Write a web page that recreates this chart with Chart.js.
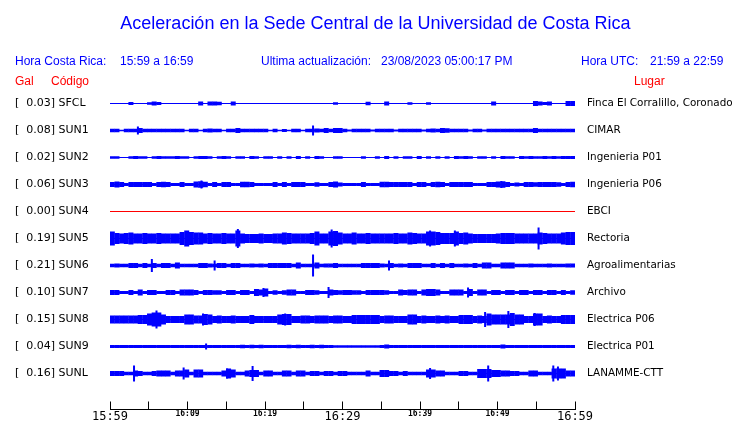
<!DOCTYPE html>
<html>
<head>
<meta charset="utf-8">
<script src="https://cdn.jsdelivr.net/npm/chart.js@4.4.0/dist/chart.umd.min.js"></script>
<style>
  body { margin: 0; background: #fff; }
  #wrap { position: relative; width: 740px; height: 423px; overflow: hidden; }
  #c { position: absolute; left: 0; top: 0; }
  .t { position: absolute; font-family: "Liberation Sans", Arial, sans-serif; white-space: pre; line-height: 1; }
  .blue { color: #0000ff; font-size: 12px; top: 55px; }
  .red { color: #ff0000; font-size: 12px; top: 75px; }
</style>
</head>
<body>
<div id="wrap">
  <canvas id="c" width="740" height="423"></canvas>
  <div class="t" style="color:#0000ff;font-size:18px;left:0;width:751px;text-align:center;top:14px">Aceleración en la Sede Central de la Universidad de Costa Rica</div>
  <div class="t blue" style="left:15px">Hora Costa Rica:</div>
  <div class="t blue" style="left:120px">15:59 a 16:59</div>
  <div class="t blue" style="left:261px">Ultima actualización:</div>
  <div class="t blue" style="left:381px">23/08/2023 05:00:17 PM</div>
  <div class="t blue" style="left:581px">Hora UTC:</div>
  <div class="t blue" style="left:650px">21:59 a 22:59</div>
  <div class="t red" style="left:15px">Gal</div>
  <div class="t red" style="left:51px">Código</div>
  <div class="t red" style="left:634px">Lugar</div>
</div>
<script>
//Estaciones
const CODES = ["SFCL", "SUN1", "SUN2", "SUN3", "SUN4", "SUN5", "SUN6", "SUN7", "SUN8", "SUN9", "SUNL"];
const GAL = ["0.03", "0.08", "0.02", "0.06", "0.00", "0.19", "0.21", "0.10", "0.15", "0.04", "0.16"];
const PLACES = ["Finca El Corralillo, Coronado", "CIMAR", "Ingenieria P01", "Ingenieria P06", "EBCI",
  "Rectoria", "Agroalimentarias", "Archivo", "Electrica P06", "Electrica P01", "LANAMME-CTT"];
const TIME_LABELS = ["15:59", "16:09", "16:19", "16:29", "16:39", "16:49", "16:59"];
const SPAN_MIN = 60;

//Envolvente de amplitud (100 intervalos de 0.6 min)
const ENV_SFCL = [0.5,0.5,0.5,0.5,1.5,0.5,0.5,0.5,1.3,2,
  1.5,0.5,0.5,0.5,0.5,0.5,0.5,0.5,0.5,2,
  0.5,2,2,1.8,0.5,0.5,2,0.5,0.5,0.5,
  0.5,0.5,0.5,0.5,0.5,0.5,0.5,0.5,0.5,0.5,
  0.5,0.5,0.5,0.5,0.5,0.5,0.5,0.5,1.3,0.5,
  0.5,0.5,0.5,0.5,0.5,1.8,0.5,0.5,0.5,2,
  0.5,0.5,0.5,0.5,1.3,0.5,0.5,0.5,1.3,0.5,
  0.5,0.5,0.5,0.5,0.5,0.5,0.5,0.5,0.5,0.5,
  0.5,0.5,2,0.5,0.5,0.5,0.5,0.5,0.5,0.5,
  0.5,2.5,2,1.5,2,0.5,0.5,0.5,2.5,2.5];
const ENV_SUN1 = [1.7,1.7,0.8,1.7,1.7,1.8,2.5,1.8,1.7,1.7,
  1.7,1.7,1.7,1.7,1.7,1.7,0.8,1.7,1.7,0.8,
  1.7,2,1.7,1.7,0.8,1.7,1.7,2.5,1.8,1.7,
  1.7,1.7,1.7,1.7,0.8,1.7,0.8,1.5,0.8,1.7,
  1.7,0.8,1.7,1.7,2,1.7,2.5,1.7,2.5,2.5,
  1.7,0.9,1.7,1.7,1.7,1.7,0.9,1.7,1.7,1.7,
  1.7,0.9,1.7,1.7,1.7,1.7,1.7,0.9,1.7,2,
  1.7,2.5,2.2,1.7,1.7,1.7,1.7,0.9,1.7,1.7,
  0.9,1.7,1.7,1.7,1.7,1.7,1.7,1.7,1.7,1.7,
  1.7,2.5,1.7,1.7,1.7,1.7,1.7,1.7,1.7,1.7];
const ENV_SUN2 = [1.2,1.2,0.6,0.6,1.2,1.5,1.2,1.2,0.6,1.2,
  1.5,1.2,1.2,1.2,1.5,1.2,1.2,0.6,1.2,1.5,
  1.5,1.2,0.6,1.2,1.5,1.2,0.6,1.2,1.2,0.6,
  1.5,1.2,0.6,1.2,1.2,0.6,1.2,0.6,1.2,0.6,
  1.5,0.6,1.2,0.6,1.5,1.2,0.6,0.6,1.2,1.2,
  0.6,0.6,0.6,0.6,1.2,0.6,0.6,1.2,0.6,1.5,
  0.6,1.2,0.6,1.2,1.2,0.6,1.5,0.6,1.2,0.6,
  1.2,0.6,1.2,0.6,1.5,1.2,1.5,1.2,0.6,1.2,
  1.2,0.6,1.2,0.6,1.5,1.2,1.2,0.6,1.5,1.2,
  1.5,1.2,1.2,1.5,1.2,1.5,1.2,1.5,1.5,1.5];
const ENV_SUN3 = [2.5,3,2.5,1.6,2.5,2.5,2.5,2.5,2.5,1.6,
  2.5,2.8,2.5,1.6,1.6,2.5,1.6,1.6,3,3.2,
  2.8,1.6,2.5,1.6,2.5,2.5,1.6,1.6,2.8,2.8,
  2.5,1.6,1.6,1.6,1.6,2.5,1.6,2.5,1.6,2.5,
  2.5,2.5,1.6,1.6,2.2,1.6,1.6,2.5,3,2,
  1.6,1.6,1.6,1.6,2.5,1.6,1.6,1.6,2.8,2.8,
  2.5,2.5,2.5,2.5,2.5,1.6,2.5,2.5,1.6,2.5,
  2.8,2.5,1.6,2.5,2.5,2.5,2.5,2.5,1.6,1.6,
  1.6,2.5,2.5,3,3.2,2.5,1.6,2,1.6,2.5,
  2.5,2.2,2.5,2.5,2.5,2.5,2.2,1.6,2.5,2.8];
const ENV_SUN4 = [0,0,0,0,0,0,0,0,0,0,
  0,0,0,0,0,0,0,0,0,0,
  0,0,0,0,0,0,0,0,0,0,
  0,0,0,0,0,0,0,0,0,0,
  0,0,0,0,0,0,0,0,0,0,
  0,0,0,0,0,0,0,0,0,0,
  0,0,0,0,0,0,0,0,0,0,
  0,0,0,0,0,0,0,0,0,0,
  0,0,0,0,0,0,0,0,0,0,
  0,0,0,0,0,0,0,0,0,0];
const ENV_SUN5 = [7,5.5,5,5.5,6,5,5,5.5,5,5,
  5.5,5,5,5,5,6.5,8,6.5,6,6,
  5,5.5,5,5,5.5,5,5,8,5,4.5,
  4.5,4.5,5,4.5,4.5,5,5,6,5.5,5,
  5,5,5,5.5,7,5,5,7,7.5,6,
  5,5,6,5,5,5.5,5,5,5,5,
  5,5.5,5,5,6,5.5,5,5,7,7,
  6.5,5.5,5.5,5.5,7,5.5,6,5,4.5,4.5,
  4.5,4.5,4.5,5,5.5,5.5,5.5,5,5,5,
  5,5,6,5.5,5,5,5,6,6.5,6.5];
const ENV_SUN6 = [1.7,2,1.7,1.7,2.5,2.5,1.7,2.5,1.7,2.5,
  1.7,2.5,2.5,1.7,3,1.7,1.7,1.7,1.7,2.5,
  2.5,2,1.7,2.5,2.5,1.7,2.5,2.5,1.7,1.7,
  2,1.7,2,1.7,2.5,2.5,2.5,2.5,2.5,1.7,
  3,1.7,1.7,1.7,3,1.7,2,2,2.5,1.7,
  1.7,1.7,1.7,1.7,2.5,2.5,2.5,2.5,2,1.7,
  2.5,1.7,2,1.7,2.5,2.5,2.5,1.7,1.7,2.5,
  1.7,2.5,1.7,2.5,1.7,1.7,2,1.7,2.5,1.7,
  3,3,1.7,1.7,3,3,3,1.7,1.7,1.7,
  2,1.7,1.7,1.7,2,1.7,1.7,1.7,2,2];
const ENV_SUN7 = [2.5,2.5,1.5,1.5,2.5,1.5,3,1.5,2.5,2.5,
  1.5,1.5,2.5,2.5,1.5,3,3,3,2.5,1.5,
  2.5,2.5,2.2,2.2,1.5,2.5,2.5,1.5,2.5,2.5,
  1.5,3.5,3,4,1.5,2.2,1.5,2.2,3,3,
  1.5,1.5,2.5,2.5,2.2,1.5,1.5,3,2.5,2.2,
  2.5,2.5,2.2,2.2,1.5,2.5,2.5,2.5,2.5,2.2,
  1.5,1.5,3,2.5,3,3,1.5,3,3.5,3.5,
  3,1.5,1.5,3,3,3,1.5,3.5,1.5,3,
  3,1.5,2.5,2.5,1.5,2.5,2.5,1.5,2.5,2.5,
  1.5,2.5,2.5,1.5,2.5,2.5,1.5,2.5,1.5,2.2];
const ENV_SUN8 = [4,4,4,4,4,4,4.5,4.5,6,7,
  7,5,3.5,3.5,3.5,3.5,5,5,4,4,
  5.5,5,3.5,4,3.5,3.5,4,3.5,3.5,3.5,
  4.5,3.5,3.5,3.5,3.5,3.5,5,5.5,5.5,3.5,
  3.5,4,4,3.5,4,4,4,3.5,4,4,
  3.5,3.5,4.5,4.5,4.5,4.5,4.5,4.5,3.5,4,
  4,3.5,3.5,3.5,5,5,3.5,4,3.5,3.5,
  4,3.5,4,3.5,3.5,4.5,4.5,4.5,3.5,4,
  3.5,6,5,5,5,5,6.5,5,5,3.5,
  3.5,6,6,3.5,4,3.5,3.5,4.5,4.5,4.5];
const ENV_SUN9 = [1.5,1.5,1.5,1.5,1.5,1.5,1.5,1.5,1.5,1.5,
  1.5,1.5,1.5,1.5,1.5,1.5,1.5,1.5,1.5,1.5,
  1.5,1.5,1.5,1.5,1.5,1.5,1.5,1.5,1.8,1.5,
  1.8,1.5,1.8,1.5,1.5,1.5,1.5,1.5,1.8,1.5,
  1.8,1.5,1.5,1.8,1.5,1.8,1.5,1.5,1.3,1.3,
  1.3,1.3,1.3,1.3,1.3,1.3,1.3,1.3,1.5,2,
  1.5,1.5,1.5,1.5,1.5,1.5,1.5,1.5,1.5,1.5,
  1.5,1.5,1.5,1.5,1.5,1.5,1.5,1.5,1.5,1.5,
  1.5,1.5,1.5,1.5,2,1.5,1.5,1.5,1.5,1.5,
  1.5,1.5,1.5,1.5,1.5,1.5,1.5,1.5,1.5,1.5];
const ENV_SUNL = [2.5,2.5,2.5,1.7,1.7,3,2.5,1.7,1.7,2.5,
  3,3,3,1.7,3,3,4,1.7,4,4,
  1.7,1.7,1.7,1.7,3,5,4,1.7,1.7,3,
  3.5,3.5,1.7,3,3,1.7,1.7,3,3,1.7,
  3,3,1.7,2.5,2.5,1.7,2.5,2.5,1.7,2.5,
  2.5,1.7,1.7,1.7,1.7,3,1.7,1.7,3.5,3.5,
  2.5,2.5,1.7,2.5,1.7,1.7,1.7,1.7,4,4,
  3,3,1.7,1.7,1.7,2.5,2.5,1.7,1.7,4.5,
  4.5,4.5,3.5,3.5,3,3,2.5,2.5,1.7,1.7,
  3,3,1.7,1.7,1.7,5,5,5,3,3];

//Picos aislados [minuto, amplitud]
const PEAKS_SFCL = [];
const PEAKS_SUN1 = [[3.6, 4], [26.2, 5]];
const PEAKS_SUN2 = [];
const PEAKS_SUN3 = [[11.8, 4], [50.5, 3.5]];
const PEAKS_SUN4 = [];
const PEAKS_SUN5 = [[16.5, 9.5], [28.6, 9], [41.3, 8], [44.5, 8], [55.3, 11]];
const PEAKS_SUN6 = [[5.4, 6.5], [13.5, 5], [26.2, 11], [36, 5]];
const PEAKS_SUN7 = [[19.8, 4.5], [28.2, 5.5], [46.2, 5]];
const PEAKS_SUN8 = [[6, 9], [12, 6], [22.6, 6], [48.4, 7.5], [51.4, 8.5], [54.8, 6.5]];
const PEAKS_SUN9 = [[12.4, 3]];
const PEAKS_SUNL = [[3.1, 8], [9.5, 6], [15.1, 5], [18.4, 7.5], [41.3, 5.5], [48.8, 8], [57.2, 8], [57.8, 7]];

const ENVS = [ENV_SFCL, ENV_SUN1, ENV_SUN2, ENV_SUN3, ENV_SUN4, ENV_SUN5, ENV_SUN6, ENV_SUN7, ENV_SUN8, ENV_SUN9, ENV_SUNL];
const PEAKS = [PEAKS_SFCL, PEAKS_SUN1, PEAKS_SUN2, PEAKS_SUN3, PEAKS_SUN4, PEAKS_SUN5, PEAKS_SUN6, PEAKS_SUN7, PEAKS_SUN8, PEAKS_SUN9, PEAKS_SUNL];

//Separación entre trazas (unidades del eje y)
const ROW_GAP = 27;

const datasets = [];
CODES.forEach((code, i) => {
  const c = i * ROW_GAP;
  const col = code === "SUN4" ? "#ff0000" : "#0000ff";
  const env = ENVS[i];
  const step = SPAN_MIN / env.length;

  datasets.push({
    type: "line",
    data: [{ x: 0, y: c }, { x: SPAN_MIN, y: c }],
    borderColor: col, borderWidth: 1, pointRadius: 0
  });
  datasets.push({
    type: "bar",
    data: env.map((a, b) => ({ x: (b + 0.5) * step, y: [c - a, c + a] })).filter(d => d.y[1] > d.y[0]),
    backgroundColor: col, barThickness: 5, grouped: false, inflateAmount: 0
  });
  datasets.push({
    type: "bar",
    data: PEAKS[i].map(([t, a]) => ({ x: t, y: [c - a, c + a] })),
    backgroundColor: col, barThickness: 2, grouped: false, inflateAmount: 0
  });
});

const rowTicks = s => { s.ticks = CODES.map((_, i) => ({ value: i * ROW_GAP })); };
const Y_MIN = -ROW_GAP / 2;
const Y_MAX = (CODES.length - 1) * ROW_GAP + 36;

new Chart(document.getElementById("c"), {
  type: "bar",
  data: { datasets },
  options: {
    responsive: false, maintainAspectRatio: false, animation: false,
    layout: { padding: { left: 15, right: 5, top: 90, bottom: 0 } },
    plugins: { legend: { display: false }, tooltip: { enabled: false }, title: { display: false } },
    scales: {
      x: {
        type: "linear", position: "bottom", min: 0, max: SPAN_MIN, offset: false,
        grid: { display: true, drawOnChartArea: false, drawTicks: true, tickLength: -8, color: "#000", lineWidth: 1, offset: false },
        border: { display: true, color: "#000", width: 1 },
        afterFit: s => { s.height = 13.5; s.paddingLeft = 0; s.paddingRight = 0; },
        ticks: {
          stepSize: 5, autoSkip: false, maxRotation: 0, minRotation: 0, padding: 8, color: "#000",
          callback: v => (v % 10 === 0 ? TIME_LABELS[v / 10] : ""),
          font: ctx => (ctx.tick && ctx.tick.value % 30 === 0)
            ? { family: "DejaVu Sans Mono", size: 12 }
            : { family: "DejaVu Sans Mono", size: 8, weight: "bold" }
        }
      },
      y: {
        type: "linear", position: "left", reverse: true, min: Y_MIN, max: Y_MAX,
        grid: { display: false, drawTicks: false }, border: { display: false },
        afterBuildTicks: rowTicks,
        afterFit: s => { s.width = 95; s.paddingTop = 0; s.paddingBottom = 0; },
        ticks: {
          crossAlign: "far", padding: 0, color: "#000", autoSkip: false,
          font: { family: "DejaVu Sans", size: 11 },
          callback: (v, i) => "[  " + GAL[i] + "] " + CODES[i]
        }
      },
      y2: {
        type: "linear", position: "right", reverse: true, min: Y_MIN, max: Y_MAX,
        grid: { display: false, drawTicks: false }, border: { display: false },
        afterBuildTicks: rowTicks,
        afterFit: s => { s.width = 160; s.paddingTop = 0; s.paddingBottom = 0; },
        ticks: {
          padding: 12, color: "#000", autoSkip: false,
          font: { family: "DejaVu Sans", size: 10.4 },
          callback: (v, i) => PLACES[i]
        }
      }
    }
  }
});
</script>
</body>
</html>
